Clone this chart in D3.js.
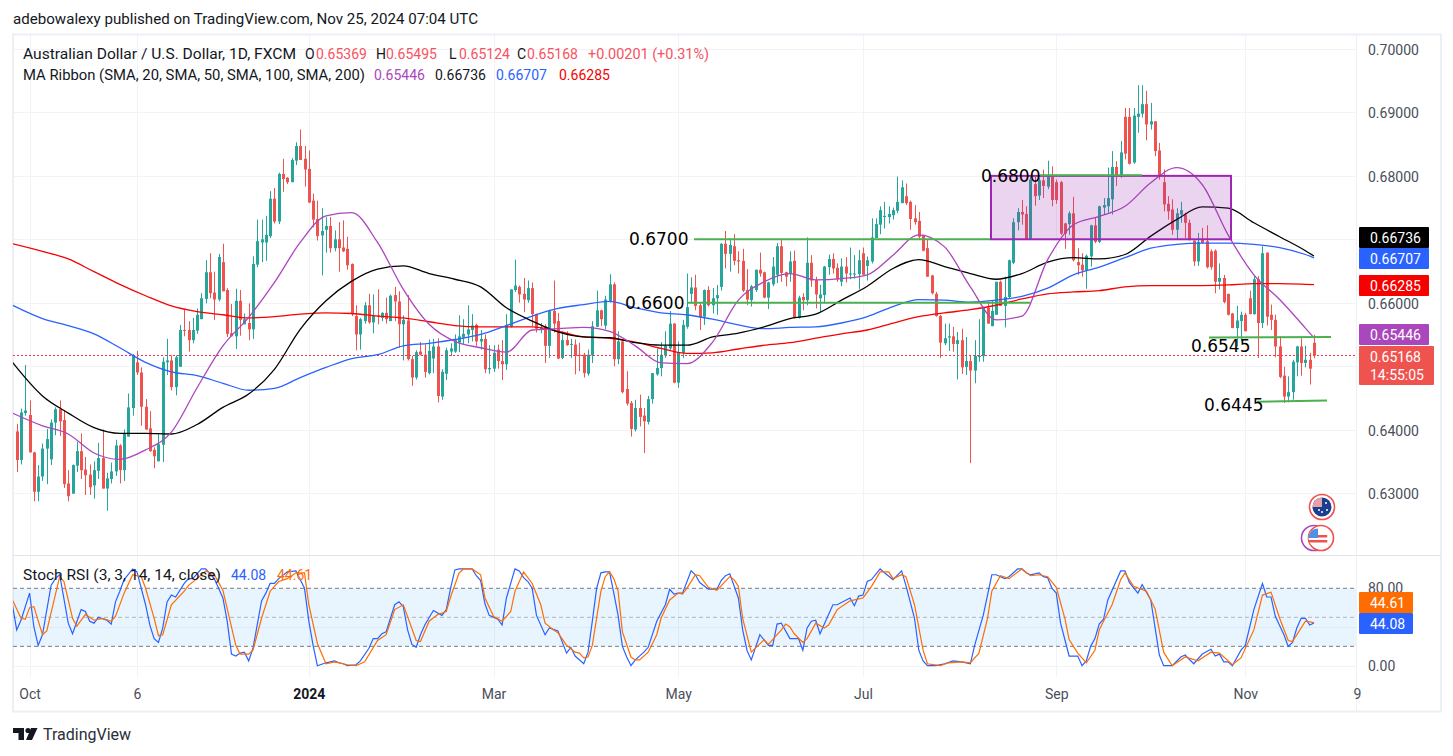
<!DOCTYPE html>
<html>
<head>
<meta charset="utf-8">
<title>AUD/USD</title>
<script src="https://cdnjs.cloudflare.com/ajax/libs/d3/7.8.5/d3.min.js"></script>
<style>
  html, body { margin: 0; padding: 0; background: #fff; }
  svg { display: block; }
  text { font-family: Roboto, "Noto Sans", sans-serif; fill: #131722; }
  .tick text { font-size: 14px; fill: #4a4e5a; }
  .note { font-family: "DejaVu Sans", sans-serif; font-size: 17px; fill: #000; }
</style>
</head>
<body>
<svg id="chart" width="1453" height="756"></svg>
<script>
// candles
const opens = [
  .6397,.6352,.6426,.6423,.6364,.6302,.6326,.6370,.6353,.6411,
  .6432,.6415,.6315,.6299,.6343,.6366,.6337,.6329,.6312,.6335,
  .6355,.6307,.6322,.6334,.6375,.6336,.6389,.6434,.6506,.6490,
  .6436,.6402,.6368,.6350,.6376,.6506,.6509,.6467,.6499,.6557,
  .6557,.6541,.6556,.6574,.6606,.6648,.6616,.6605,.6664,.6620,
  .6552,.6547,.6603,.6566,.6568,.6558,.6660,.6695,.6695,.6705,
  .6764,.6728,.6803,.6797,.6790,.6824,.6847,.6827,.6811,.6761,
  .6732,.6706,.6715,.6721,.6686,.6700,
  .6687,.6685,.6661,.6579,.6550,.6571,.6596,.6569,.6580,.6576,
  .6584,.6571,.6612,.6602,.6566,.6572,.6511,.6482,.6523,.6518,
  .6489,.6512,.6531,.6452,.6488,.6523,.6523,.6537,.6545,.6550,
  .6557,.6565,.6539,.6543,.6495,.6496,.6526,.6508,.6503,.6562,
  .6620,.6625,.6614,.6604,.6623,.6582,.6557,.6563,.6532,.6587,
  .6571,.6513,.6541,.6534,.6534,.6518,.6518,.6488,.6517,.6562,
  .6588,.6564,.6603,.6629,.6511,.6539,.6464,.6442,.6400,.6434,
  .6422,.6412,.6448,.6487,.6497,.6517,.6528,.6567,.6474,.6521,
  .6562,.6614,.6624,.6596,.6578,.6620,.6596,.6607,.6625,.6693,
  .6677,.6689,.6667,.6666,.6620,.6604,.6620,.6652,.6648,.6608,
  .6629,.6644,.6689,.6648,.6646,.6666,.6576,.6609,.6604,.6663,
  .6636,.6607,.6612,.6656,.6669,.6655,.6633,.6657,.6645,.6645,
  .6645,.6678,.6658,.6665,.6702,.6723,.6735,.6735,.6738,.6745,
  .6757,.6768,.6759,.6733,.6729,.6707,.6686,.6643,.6614,.6579,
  .6536,.6545,.6547,.6535,.6541,.6499,.6508,.6493,.6515,.6516,
  .6592,.6563,.6581,.6633,.6595,.6609,.6663,.6727,.6743,.6740,
  .6701,.6787,.6769,.6793,.6783,.6799,.6790,.6790,.6725,.6724,
  .6741,.6664,.6660,.6651,.6673,.6722,.6696,.6750,.6752,.6763,
  .6814,.6799,.6893,.6893,.6821,.6893,.6898,.6913,.6881,.6886,
  .6840,.6790,.6756,.6747,.6715,.6739,.6739,.6726,.6698,.6665,
  .6699,.6697,.6681,.6682,.6633,.6639,.6614,.6583,.6560,.6571,
  .6581,.6607,.6582,.6637,.6568,.6679,.6581,.6573,.6531,.6485,
  .6452,.6459,.6506,.6531,.6505,.6510,.65369
];
const highs = [
  .6409,.6433,.6502,.6446,.6365,.6344,.6378,.6401,.6416,.6435,
  .6446,.6431,.6336,.6345,.6381,.6394,.6357,.6345,.6350,.6379,
  .6400,.6332,.6348,.6384,.6377,.6400,.6457,.6519,.6524,.6498,
  .6448,.6429,.6372,.6393,.6514,.6543,.6517,.6517,.6565,.6590,
  .6571,.6576,.6591,.6615,.6667,.6678,.6649,.6677,.6693,.6623,
  .6598,.6622,.6620,.6583,.6599,.6673,.6731,.6731,.6737,.6776,
  .6781,.6805,.6827,.6798,.6828,.6853,.6873,.6847,.6840,.6772,
  .6761,.6749,.6735,.6735,.6714,.6727,
  .6730,.6704,.6662,.6596,.6576,.6601,.6614,.6613,.6621,.6585,
  .6608,.6613,.6625,.6618,.6580,.6612,.6516,.6525,.6538,.6534,
  .6542,.6543,.6544,.6495,.6529,.6536,.6550,.6580,.6574,.6596,
  .6582,.6567,.6557,.6550,.6533,.6533,.6534,.6541,.6582,.6621,
  .6668,.6627,.6639,.6635,.6632,.6583,.6568,.6566,.6589,.6635,
  .6584,.6555,.6555,.6543,.6542,.6537,.6521,.6526,.6571,.6619,
  .6589,.6611,.6645,.6632,.6555,.6542,.6492,.6445,.6447,.6455,
  .6434,.6453,.6489,.6527,.6538,.6555,.6587,.6568,.6539,.6573,
  .6646,.6640,.6644,.6599,.6621,.6626,.6623,.6628,.6694,.6713,
  .6701,.6708,.6681,.6685,.6653,.6628,.6652,.6679,.6649,.6633,
  .6672,.6694,.6699,.6649,.6681,.6682,.6611,.6615,.6703,.6675,
  .6641,.6628,.6658,.6676,.6678,.6662,.6670,.6672,.6687,.6675,
  .6683,.6687,.6673,.6733,.6733,.6752,.6759,.6752,.6750,.6799,
  .6793,.6788,.6761,.6754,.6743,.6707,.6699,.6644,.6617,.6581,
  .6567,.6567,.6562,.6554,.6559,.6546,.6517,.6541,.6574,.6594,
  .6602,.6604,.6633,.6635,.6641,.6668,.6733,.6749,.6762,.6752,
  .6799,.6799,.6797,.6810,.6824,.6815,.6794,.6792,.6726,.6744,
  .6767,.6686,.6678,.6676,.6723,.6734,.6753,.6765,.6813,.6839,
  .6823,.6855,.6907,.6907,.6907,.6943,.6943,.6934,.6915,.6886,
  .6852,.6810,.6768,.6763,.6749,.6759,.6742,.6731,.6698,.6710,
  .6718,.6722,.6684,.6684,.6662,.6644,.6614,.6584,.6595,.6586,
  .6584,.6619,.6642,.6642,.6689,.6679,.6597,.6581,.6547,.6499,
  .6484,.6510,.6532,.6544,.6532,.6521,.65495
];
const lows = [
  .6333,.6345,.6422,.6364,.6287,.6287,.6319,.6314,.6344,.6391,
  .6390,.6308,.6287,.6299,.6333,.6322,.6297,.6297,.6291,.6322,
  .6307,.6272,.6315,.6327,.6315,.6319,.6389,.6422,.6486,.6406,
  .6400,.6365,.6339,.6350,.6349,.6486,.6462,.6454,.6499,.6547,
  .6523,.6536,.6551,.6574,.6599,.6607,.6573,.6602,.6618,.6546,
  .6547,.6527,.6548,.6566,.6541,.6543,.6656,.6664,.6666,.6702,
  .6725,.6724,.6775,.6787,.6790,.6817,.6825,.6783,.6757,.6719,
  .6698,.6643,.6679,.6679,.6681,.6649,
  .6680,.6652,.6579,.6525,.6526,.6567,.6567,.6552,.6566,.6571,
  .6567,.6571,.6571,.6529,.6509,.6509,.6469,.6479,.6517,.6482,
  .6487,.6489,.6443,.6447,.6478,.6516,.6521,.6522,.6534,.6536,
  .6539,.6532,.6526,.6489,.6488,.6491,.6496,.6478,.6494,.6561,
  .6617,.6600,.6585,.6600,.6563,.6553,.6552,.6505,.6513,.6553,
  .6511,.6511,.6532,.6513,.6487,.6492,.6482,.6485,.6505,.6562,
  .6563,.6558,.6600,.6500,.6503,.6457,.6438,.6389,.6397,.6405,
  .6363,.6408,.6441,.6485,.6484,.6513,.6525,.6473,.6466,.6513,
  .6559,.6599,.6588,.6557,.6565,.6594,.6583,.6581,.6619,.6654,
  .6649,.6659,.6646,.6617,.6596,.6594,.6617,.6641,.6607,.6590,
  .6626,.6631,.6633,.6626,.6633,.6575,.6575,.6588,.6596,.6625,
  .6591,.6586,.6599,.6644,.6646,.6633,.6626,.6632,.6637,.6638,
  .6621,.6644,.6635,.6662,.6702,.6708,.6717,.6725,.6731,.6741,
  .6757,.6754,.6715,.6723,.6699,.6681,.6641,.6613,.6578,.6513,
  .6533,.6524,.6523,.6479,.6488,.6486,.6347,.6473,.6507,.6507,
  .6567,.6563,.6581,.6595,.6561,.6607,.6661,.6714,.6723,.6699,
  .6699,.6753,.6762,.6765,.6779,.6752,.6756,.6707,.6685,.6707,
  .6665,.6644,.6641,.6622,.6657,.6694,.6694,.6739,.6742,.6739,
  .6784,.6797,.6826,.6818,.6819,.6868,.6892,.6856,.6873,.6831,
  .6794,.6744,.6731,.6707,.6699,.6726,.6702,.6698,.6658,.6658,
  .6694,.6654,.6652,.6615,.6621,.6599,.6580,.6560,.6531,.6539,
  .6555,.6582,.6581,.6513,.6560,.6564,.6557,.6514,.6481,.6442,
  .6443,.6447,.6484,.6485,.6498,.6471,.65124
];
const closes = [
  .6352,.6427,.6430,.6364,.6302,.6326,.6370,.6385,.6411,.6432,
  .6413,.6314,.6295,.6344,.6366,.6336,.6328,.6309,.6336,.6355,
  .6307,.6323,.6334,.6375,.6336,.6394,.6435,.6516,.6490,.6436,
  .6400,.6366,.6358,.6377,.6507,.6509,.6467,.6514,.6557,.6556,
  .6541,.6557,.6581,.6607,.6648,.6615,.6605,.6672,.6618,.6551,
  .6547,.6603,.6573,.6574,.6558,.6661,.6697,.6700,.6707,.6764,
  .6728,.6803,.6795,.6790,.6825,.6847,.6825,.6810,.6758,.6731,
  .6705,.6713,.6721,.6686,.6700,.6686,
  .6681,.6659,.6582,.6550,.6574,.6596,.6569,.6580,.6579,.6584,
  .6574,.6611,.6602,.6566,.6573,.6511,.6482,.6522,.6518,.6491,
  .6524,.6531,.6453,.6491,.6525,.6528,.6541,.6547,.6551,.6558,
  .6564,.6539,.6543,.6495,.6497,.6521,.6508,.6503,.6564,.6621,
  .6627,.6613,.6605,.6623,.6582,.6559,.6561,.6532,.6587,.6567,
  .6512,.6541,.6533,.6535,.6516,.6517,.6489,.6518,.6563,.6588,
  .6574,.6605,.6629,.6511,.6539,.6459,.6441,.6401,.6434,.6420,
  .6413,.6448,.6489,.6497,.6518,.6532,.6567,.6474,.6522,.6565,
  .6593,.6624,.6595,.6577,.6620,.6596,.6607,.6612,.6693,.6677,
  .6691,.6666,.6665,.6619,.6605,.6626,.6652,.6646,.6608,.6632,
  .6657,.6689,.6647,.6641,.6665,.6577,.6608,.6604,.6663,.6635,
  .6613,.6613,.6657,.6669,.6654,.6637,.6657,.6646,.6646,.6646,
  .6667,.6644,.6667,.6703,.6724,.6746,.6737,.6740,.6746,.6759,
  .6782,.6757,.6732,.6727,.6704,.6682,.6641,.6615,.6579,.6537,
  .6544,.6547,.6535,.6541,.6498,.6508,.6493,.6516,.6516,.6592,
  .6567,.6587,.6633,.6595,.6609,.6667,.6727,.6743,.6739,.6701,
  .6794,.6768,.6793,.6784,.6799,.6762,.6762,.6709,.6709,.6741,
  .6667,.6659,.6651,.6674,.6722,.6696,.6752,.6754,.6765,.6814,
  .6799,.6837,.6835,.6819,.6895,.6898,.6913,.6881,.6886,.6839,
  .6799,.6755,.6744,.6715,.6741,.6746,.6726,.6699,.6665,.6696,
  .6694,.6656,.6656,.6633,.6639,.6601,.6581,.6560,.6572,.6581,
  .6555,.6582,.6637,.6568,.6678,.6578,.6573,.6531,.6483,.6452,
  .6459,.6507,.6531,.6505,.6510,.6496,.65168
];

// moving averages, read every sixth bar
const maBars = [-1,6,12,18,24,30,36,42,48,54,60,66,72,78,84,90,96,102,108,114,120,126,132,138,144,150,
  156,162,168,174,180,186,192,198,204,210,216,222,228,234,240,246,252,258,264,270,276,282,288,294,300,302];
const sma20 = [.6426,.6406,.6393,.6363,.6353,.6368,.6396,.6466,.6532,.6577,.6632,.6695,.6737,
  .6742,.6695,.6621,.6566,.6539,.6529,.6522,.6557,.6559,.6561,.6555,.6532,.6505,
  .6504,.6538,.6604,.6633,.6646,.6636,.6638,.6644,.6675,.6707,.6688,.6625,.6573,
  .6579,.6668,.6723,.6736,.6752,.6789,.6813,.6786,.6707,.6644,.6605,.6560,.65446];
const sma50 = [.6506,.6453,.6426,.6403,.6394,.6394,.6393,.6408,.6435,.6456,.6495,.6558,.6603,
  .6634,.6653,.6658,.6646,.6637,.6625,.6592,.6571,.6554,.6546,.6545,.6537,.6533,
  .6533,.6546,.6552,.6562,.6575,.6582,.6604,.6626,.6654,.6668,.6657,.6646,.6637,
  .6646,.6664,.6671,.6669,.6676,.6705,.6731,.6751,.6749,.6726,.6704,.6682,.66736];
const sma100 = [.6596,.6575,.6564,.6551,.6529,.6506,.6491,.6485,.6473,.6462,.6465,.6482,.6498,
  .6512,.6518,.6532,.6536,.6542,.6550,.6564,.6579,.6591,.6597,.6602,.6592,.6584,
  .6581,.6574,.6565,.6559,.6561,.6562,.6568,.6578,.6594,.6605,.6604,.6601,.6604,
  .6610,.6623,.6644,.6656,.6671,.6686,.6692,.6694,.6694,.6692,.6687,.6676,.66707];
const sma200 = [.6693,.6681,.6669,.6649,.6629,.6611,.6595,.6586,.6581,.6576,.6578,.6582,.6584,
  .6583,.6579,.6576,.6570,.6564,.6562,.6562,.6562,.6555,.6546,.6544,.6538,.6528,
  .6520,.6521,.6527,.6533,.6537,.6544,.6551,.6557,.6568,.6578,.6584,.6589,.6596,
  .6606,.6614,.6617,.6619,.6625,.6627,.6627,.6627,.6628,.6630,.6630,.6629,.66285];

// stoch rsi, turning points
const stochKBars = [-1,0,1,3,4,5,6,8,9,10,12,13,15,16,17,18,19,21,22,23,24,25,27,28,30,31,32,33,34,35,36,37,39,40,41,43,44,46,47,48,49,50,51,52,53,54,55,57,58,59,60,61,63,65,67,68,69,70,72,74,75,76,77,79,80,82,83,84,85,86,87,88,89,90,91,92,93,94,95,97,99,100,101,102,103,106,107,108,
  109,110,112,113,114,116,117,118,119,120,121,123,124,126,128,129,130,132,133,134,135,136,137,138,139,140,141,142,143,144,146,147,149,151,152,153,154,155,157,158,159,161,163,164,165,166,168,169,170,171,173,175,176,177,178,180,182,183,184,185,186,187,190,191,194,195,196,197,198,199,201,202,204,206,207,209,210,211,212,214,216,218,220,
  222,223,225,226,227,228,230,231,233,234,235,236,238,239,240,241,242,243,245,247,248,249,250,251,252,253,254,257,258,259,261,262,264,266,267,269,271,272,274,276,278,279,280,281,282,283,285,286,288,290,291,292,293,295,296,297,298,299,300,301,302];
const stochK = [63,37,47,75,40,21,32,83,90,94,44,33,58,56,46,44,50,47,43,66,77,89,100,97,63,42,28,24,39,66,73,71,85,90,90,100,100,90,80,70,46,12,10,13,14,5,18,67,75,85,85,90,97,98,80,46,21,0,3,5,3,2,0,1,5,18,28,28,33,35,49,63,66,61,37,22,19,32,42,57,52,58,80,99,100,100,93,88,
  64,52,48,42,70,100,98,91,87,80,52,32,39,36,13,19,10,2,14,46,80,96,97,97,75,52,20,9,0,6,14,19,46,63,79,74,75,75,98,94,86,79,79,88,93,95,70,37,16,6,32,21,21,43,44,28,28,16,39,46,47,33,63,63,70,62,72,73,87,89,100,96,89,98,83,49,16,5,0,0,2,5,4,
  2,21,52,73,94,94,90,92,100,100,96,94,96,92,91,80,75,44,10,10,0,5,20,28,43,48,68,98,98,86,75,84,68,11,0,0,9,11,2,12,17,10,12,4,4,0,16,21,58,85,71,71,51,32,20,24,39,49,49,42,44.08];
const stochDBars = [-1,1,2,3,4,6,7,10,11,13,14,16,18,20,22,23,25,27,29,30,32,33,34,36,39,40,42,44,46,48,49,51,52,54,55,57,59,61,63,65,67,68,70,72,74,77,79,81,84,86,88,90,93,94,96,98,100,101,103,104,106,108,
  109,111,113,115,116,118,120,122,123,125,126,128,130,131,132,133,134,136,137,138,139,140,141,143,144,145,147,149,150,152,154,155,156,158,159,161,163,166,167,168,169,171,174,175,178,179,180,181,183,184,186,188,189,191,193,194,197,199,201,203,204,206,207,209,211,212,215,217,220,
  222,224,226,227,229,231,234,236,238,240,242,244,245,247,249,251,252,253,255,257,258,260,263,265,267,269,272,275,278,280,283,285,288,290,292,294,296,297,300,302];
const stochD = [68,49,48,60,61,32,36,92,87,49,41,53,47,49,46,51,75,94,92,80,49,31,32,63,77,83,90,98,94,78,59,21,12,12,16,49,77,87,90,96,96,63,23,2,4,1,0,4,26,32,58,63,26,25,46,53,56,71,96,100,100,94,
  70,51,46,56,77,97,85,63,44,37,34,21,14,13,8,9,21,77,92,97,90,77,35,9,6,6,14,32,49,68,75,74,80,94,93,81,78,92,89,82,49,14,27,22,37,43,40,33,24,28,44,39,42,58,64,67,70,82,97,97,90,94,92,63,16,2,0,3,4,
  3,13,49,77,93,90,100,93,94,92,81,49,27,13,3,16,37,46,63,89,96,82,77,59,14,0,9,5,14,13,1,8,37,73,76,49,26,25,46,44.61];

// axis labels
const priceGrid = [0.70, 0.69, 0.68, 0.67, 0.66, 0.65, 0.64, 0.63];
const priceTicks = [0.70, 0.69, 0.68, 0.66, 0.64, 0.63];
const timeBars = [3, 28, 68, 111, 154, 197, 242, 286, 312];
const timeLabels = ['Oct', '6', '2024', 'Mar', 'May', 'Jul', 'Sep', 'Nov', '9'];

const UP = '#26a69a', DOWN = '#ef5350';
const svg = d3.select('#chart');

const x = d3.scaleLinear().domain([0, 302]).range([16.7, 1314]);
const y = d3.scaleLinear().domain([0.63, 0.70]).range([493, 49]);
const yS = d3.scaleLinear().domain([0, 80]).range([665.7, 588.3]);

const left = 13, right = 1356, mainBottom = 555, stochBottom = 677;

// panes clip
const defs = svg.append('defs');
defs.append('clipPath').attr('id', 'mainClip').append('rect')
  .attr('x', left).attr('y', 35).attr('width', right - left).attr('height', mainBottom - 35);
defs.append('clipPath').attr('id', 'stochClip').append('rect')
  .attr('x', left).attr('y', mainBottom).attr('width', right - left).attr('height', stochBottom - mainBottom);

// grid
const grid = svg.append('g').attr('stroke', '#f2f3f6').attr('stroke-width', 1);
grid.selectAll('.gh').data(priceGrid).join('line')
  .attr('x1', left).attr('x2', right)
  .attr('y1', d => Math.round(y(d)) + .5).attr('y2', d => Math.round(y(d)) + .5);
grid.selectAll('.gv').data(timeBars.slice(0, 8)).join('line')
  .attr('x1', d => Math.round(x(d)) + .5).attr('x2', d => Math.round(x(d)) + .5)
  .attr('y1', 35).attr('y2', stochBottom);
grid.selectAll('.gs').data([0, 40]).join('line')
  .attr('x1', left).attr('x2', right)
  .attr('y1', d => Math.round(yS(d)) + .5).attr('y2', d => Math.round(yS(d)) + .5);

// frame
svg.append('rect').attr('x', 13).attr('y', 34.5).attr('width', 1428).attr('height', 677)
  .attr('fill', 'none').attr('stroke', '#eeeff5').attr('stroke-width', 2);
svg.append('line').attr('x1', 13).attr('x2', 1441).attr('y1', 555.5).attr('y2', 555.5)
  .attr('stroke', '#e0e3eb');
svg.append('line').attr('x1', right + .5).attr('x2', right + .5).attr('y1', 35).attr('y2', 711)
  .attr('stroke', '#f0f1f5');

// candles
const main = svg.append('g').attr('clip-path', 'url(#mainClip)');
const bars = d3.range(opens.length);
const candle = main.append('g').selectAll('g').data(bars).join('g')
  .attr('fill', i => closes[i] >= opens[i] ? UP : DOWN);
candle.append('rect')
  .attr('x', i => Math.round(x(i)))
  .attr('width', 1)
  .attr('y', i => y(highs[i]))
  .attr('height', i => y(lows[i]) - y(highs[i]));
candle.append('rect')
  .attr('x', i => Math.round(x(i)) - 1)
  .attr('width', 3)
  .attr('y', i => y(Math.max(opens[i], closes[i])))
  .attr('height', i => Math.max(1, Math.abs(y(opens[i]) - y(closes[i]))));

// last price dotted line
main.append('line')
  .attr('x1', left).attr('x2', right)
  .attr('y1', Math.round(y(0.65168)) + .5).attr('y2', Math.round(y(0.65168)) + .5)
  .attr('stroke', '#f23645').attr('stroke-width', 1).attr('stroke-dasharray', '2 2');

// moving averages
const maLine = d3.line().x((d, i) => x(maBars[i])).y(d => y(d)).curve(d3.curveMonotoneX);
[[sma200, '#f70000'], [sma100, '#2962ff'], [sma50, '#000000'], [sma20, '#ab47bc']].forEach(([s, c]) => {
  main.append('path').attr('d', maLine(s)).attr('fill', 'none').attr('stroke', c).attr('stroke-width', 1.3);
});

// drawn annotations
const notes = svg.append('g').attr('clip-path', 'url(#mainClip)');
notes.append('rect')
  .attr('x', 991).attr('width', 240)
  .attr('y', y(0.68)).attr('height', y(0.67) - y(0.68))
  .attr('fill', 'rgba(156,39,176,0.2)').attr('stroke', '#9c27b0').attr('stroke-width', 2);
const levels = [
  { text: '0.6700', tx: 629, ty: 245, p1: 0.67, p2: 0.67, a: 694, b: 990 },
  { text: '0.6600', tx: 625, ty: 309, p1: 0.66, p2: 0.66, a: 688, b: 1030 },
  { text: '0.6800', tx: 981, ty: 182, p1: 0.6801, p2: 0.6801, a: 1040, b: 1142 },
  { text: '0.6545', tx: 1191, ty: 352, p1: 0.6545, p2: 0.6546, a: 1209, b: 1331 },
  { text: '0.6445', tx: 1204, ty: 411, p1: 0.6444, p2: 0.6446, a: 1257, b: 1327 }
];
levels.forEach(l => {
  notes.append('line').attr('x1', l.a).attr('x2', l.b).attr('y1', y(l.p1)).attr('y2', y(l.p2))
    .attr('stroke', '#4caf50').attr('stroke-width', 2);
  notes.append('text').attr('class', 'note').attr('x', l.tx).attr('y', l.ty).text(l.text);
});

// price axis
svg.append('g').attr('transform', `translate(${right},1)`)
  .call(d3.axisRight(y).tickValues(priceTicks).tickSize(0).tickPadding(12).tickFormat(d3.format('.5f')))
  .call(g => g.select('.domain').remove());

// time axis
svg.append('g').attr('transform', `translate(0,${stochBottom})`)
  .call(d3.axisBottom(x).tickValues(timeBars).tickSize(0).tickPadding(12).tickFormat((d, i) => timeLabels[i]))
  .call(g => g.select('.domain').remove())
  .call(g => g.selectAll('.tick text').filter((d, i) => timeLabels[i] === '2024')
    .attr('font-weight', 700).style('font-weight', 700).style('fill', '#131722'));

// badges
function badge(px, py, w, h, color, lines) {
  svg.append('rect').attr('x', px).attr('y', py).attr('width', w).attr('height', h).attr('rx', 1).attr('fill', color);
  lines.forEach((t, i) => {
    svg.append('text').attr('x', px + 11).attr('y', py + 15.5 + i * 18).attr('font-size', 14)
      .style('fill', '#fff').text(t);
  });
}
badge(1359, 227, 70, 21, '#000000', ['0.66736']);
badge(1359, 248, 70, 21, '#2962ff', ['0.66707']);
badge(1359, 275, 70, 21, '#f70000', ['0.66285']);
badge(1359, 324, 70, 21, '#ab47bc', ['0.65446']);
badge(1359, 346, 75, 39, '#ef5350', ['0.65168', '14:55:05']);

// stoch rsi pane
const stoch = svg.append('g').attr('clip-path', 'url(#stochClip)');
stoch.append('rect').attr('x', left).attr('width', right - left)
  .attr('y', yS(80)).attr('height', yS(20) - yS(80)).attr('fill', 'rgba(33,150,243,0.1)');
[[80, '#787b86', '4 3'], [50, '#b2b5be', '4 3'], [20, '#787b86', '4 3']].forEach(([v, c, dash]) => {
  stoch.append('line').attr('x1', left).attr('x2', right).attr('y1', yS(v)).attr('y2', yS(v))
    .attr('stroke', c).attr('stroke-dasharray', dash);
});
const stochLine = ids => d3.line().x((d, i) => x(ids[i])).y(d => yS(d));
stoch.append('path').attr('d', stochLine(stochKBars)(stochK)).attr('fill', 'none').attr('stroke', '#2962ff').attr('stroke-width', 1.2);
stoch.append('path').attr('d', stochLine(stochDBars)(stochD)).attr('fill', 'none').attr('stroke', '#ff6d00').attr('stroke-width', 1.2);

svg.append('g').attr('transform', `translate(${right},0)`)
  .call(d3.axisRight(yS).tickValues([80, 0]).tickSize(0).tickPadding(12).tickFormat(d3.format('.2f')))
  .call(g => g.select('.domain').remove());
badge(1359, 592, 54, 21, '#ff6d00', ['44.61']);
badge(1359, 613, 54, 21, '#2962ff', ['44.08']);

// legend texts
function label(px, py, t, color, size, len) {
  const el = svg.append('text').attr('x', px).attr('y', py).attr('font-size', size || 14)
    .style('fill', color || '#131722').text(t);
  if (len) el.attr('textLength', len).attr('lengthAdjust', 'spacingAndGlyphs');
}
label(13, 24, 'adebowalexy published on TradingView.com, Nov 25, 2024 07:04 UTC', '#131722', 14, 465);
const RED = '#f7525f';
label(23, 59, 'Australian Dollar / U.S. Dollar, 1D, FXCM', '#131722', 14, 273);
label(305, 59, 'O'); label(316, 59, '0.65369', RED);
label(376, 59, 'H'); label(386, 59, '0.65495', RED);
label(449, 59, 'L'); label(459, 59, '0.65124', RED);
label(517, 59, 'C'); label(527, 59, '0.65168', RED);
label(588, 59, '+0.00201 (+0.31%)', RED, 14, 121);
label(23, 80, 'MA Ribbon (SMA, 20, SMA, 50, SMA, 100, SMA, 200)', '#131722', 14, 342);
label(374, 80, '0.65446', '#ab47bc');
label(435, 80, '0.66736', '#131722');
label(496, 80, '0.66707', '#2962ff');
label(559, 80, '0.66285', '#f70000');
label(23, 580, 'Stoch RSI (3, 3, 14, 14, close)', '#131722', 14, 198);
label(231, 580, '44.08', '#2962ff');
label(277, 580, '44.61', '#ff6d00');

// currency logos
const au = svg.append('g').attr('transform', 'translate(1322,507)');
au.append('circle').attr('r', 12.5).attr('fill', '#fff').attr('stroke', '#ef5350').attr('stroke-width', 1.6);
au.append('circle').attr('r', 9.5).attr('fill', '#1b3f8f');
au.append('path').attr('d', 'M-9.5 0A9.5 9.5 0 0 1 0 -9.5V0Z').attr('fill', '#e8a0a8');
[[4, -4], [5, 3], [0, 5], [-3, 3]].forEach(s => au.append('circle').attr('cx', s[0]).attr('cy', s[1]).attr('r', 1).attr('fill', '#fff'));
const us = svg.append('g').attr('transform', 'translate(1318,538)');
us.append('circle').attr('cx', -4).attr('r', 12.5).attr('fill', '#fff').attr('stroke', '#ab47bc').attr('stroke-width', 1.6);
us.append('circle').attr('cx', 3).attr('r', 12.5).attr('fill', '#fff').attr('stroke', '#ef5350').attr('stroke-width', 1.6);
us.append('circle').attr('r', 9.5).attr('fill', '#fff');
us.append('path').attr('d', 'M-9.5 -3H9.2V-0.5H-9.5ZM-9.5 2H9.3V4.5H-9.5Z').attr('fill', '#ef5350');
us.append('path').attr('d', 'M-9 -3A9.5 9.5 0 0 1 0 -9.5V0H-9.5Z').attr('fill', '#4f8fe8');

// tradingview logo
const tv = svg.append('g').attr('fill', '#131722');
tv.append('path').attr('d', 'M13 728H24V740H18.5V733H13Z');
tv.append('circle').attr('cx', 28).attr('cy', 730.5).attr('r', 2.6);
tv.append('path').attr('d', 'M31 728H37.5L32 740H26Z');
label(43, 740, 'TradingView', '#2a2e39', 16);
</script>
</body>
</html>
